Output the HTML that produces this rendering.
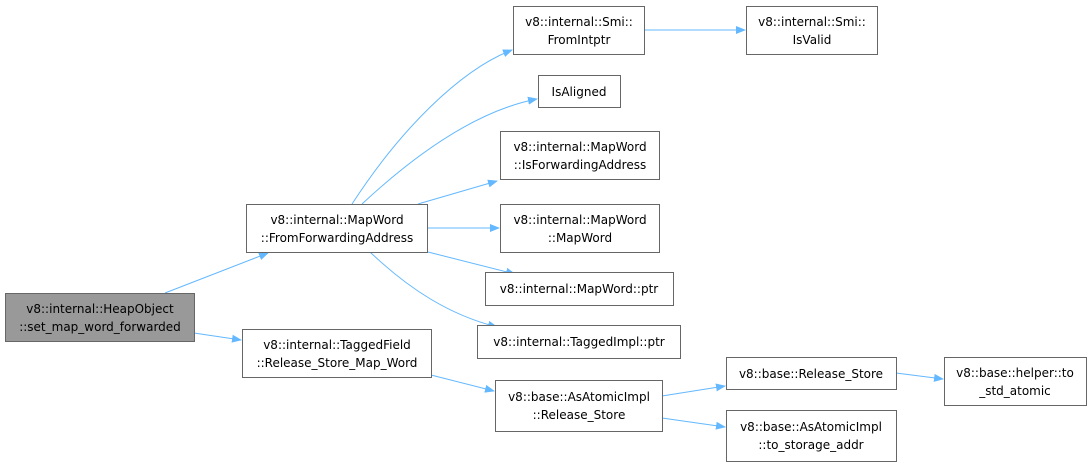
<!DOCTYPE html>
<html><head><meta charset="utf-8"><style>
html,body{margin:0;padding:0;background:#fff;}
svg{display:block;}
text{font-family:"DejaVu Sans","Liberation Sans",sans-serif;font-size:12px;fill:#000;}
</style></head><body>
<svg width="1092" height="467" viewBox="0 0 1092 467" xmlns="http://www.w3.org/2000/svg">
<defs><marker id="a" markerWidth="10" markerHeight="8" refX="9" refY="4" orient="auto" markerUnits="userSpaceOnUse"><path d="M0,0 L10,4 L0,8 z" fill="#63b8ff"/></marker></defs>
<g fill="none" stroke="#63b8ff" stroke-width="1" marker-end="url(#a)">
<path d="M165,293 L268,253"/>
<path d="M194,333 L241,340"/>
<path d="M352,204 C400,130 460,70 512,50"/>
<path d="M362,204 C420,150 480,110 537,99"/>
<path d="M418,204 L497,181"/>
<path d="M428,228 L499,228"/>
<path d="M428,252 L515,274"/>
<path d="M370,252 C410,290 450,315 497,327"/>
<path d="M644,30 L745,30"/>
<path d="M431,375 L494,391"/>
<path d="M662,396 L725,386"/>
<path d="M662,418 L725,427"/>
<path d="M896,373 L943,379"/>
</g>
<g stroke="#666" stroke-width="1" fill="#fff">
<rect x="5.5" y="293.5" width="189" height="48" fill="#999"/>
<rect x="246.5" y="204.5" width="181" height="48"/>
<rect x="242.5" y="329.5" width="189" height="48"/>
<rect x="513.5" y="6.5" width="131" height="48"/>
<rect x="746.5" y="6.5" width="131" height="48"/>
<rect x="538.5" y="75.5" width="82" height="32"/>
<rect x="500.5" y="131.5" width="159" height="48"/>
<rect x="500.5" y="204.5" width="159" height="48"/>
<rect x="485.5" y="272.5" width="188" height="33"/>
<rect x="477.5" y="325.5" width="203" height="33"/>
<rect x="495.5" y="380.5" width="167" height="51"/>
<rect x="726.5" y="357.5" width="170" height="32"/>
<rect x="944.5" y="357.5" width="142" height="48"/>
<rect x="726.5" y="410.5" width="170" height="51"/>
</g>
<g text-anchor="middle">
<text x="100" y="313">v8::internal::HeapObject</text><text x="100" y="331">::set_map_word_forwarded</text>
<text x="337" y="224">v8::internal::MapWord</text><text x="337" y="242">::FromForwardingAddress</text>
<text x="337" y="349">v8::internal::TaggedField</text><text x="337" y="367">::Release_Store_Map_Word</text>
<text x="579" y="26">v8::internal::Smi::</text><text x="579" y="44">FromIntptr</text>
<text x="812" y="26">v8::internal::Smi::</text><text x="812" y="44">IsValid</text>
<text x="579" y="96">IsAligned</text>
<text x="580" y="151">v8::internal::MapWord</text><text x="580" y="169">::IsForwardingAddress</text>
<text x="580" y="224">v8::internal::MapWord</text><text x="580" y="242">::MapWord</text>
<text x="579" y="293">v8::internal::MapWord::ptr</text>
<text x="579" y="346">v8::internal::TaggedImpl::ptr</text>
<text x="579" y="401">v8::base::AsAtomicImpl</text><text x="579" y="419">::Release_Store</text>
<text x="811" y="378">v8::base::Release_Store</text>
<text x="1015" y="377">v8::base::helper::to</text><text x="1015" y="395">_std_atomic</text>
<text x="811" y="431">v8::base::AsAtomicImpl</text><text x="811" y="449">::to_storage_addr</text>
</g>
</svg>
</body></html>
